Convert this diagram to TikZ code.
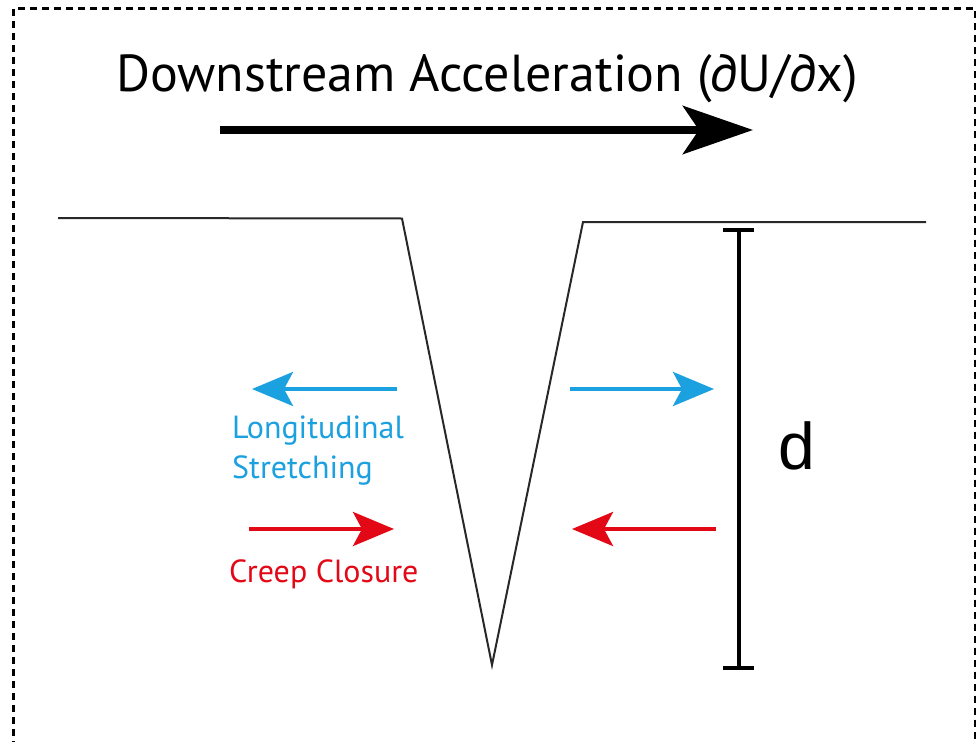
\documentclass[tikz,border=0pt]{standalone}
\usepackage{fontspec}
\setmainfont{PT Sans}
\newfontfamily\dfont{Liberation Sans}
\usetikzlibrary{arrows.meta}
\definecolor{cblue}{RGB}{27,160,224}
\definecolor{cred}{RGB}{226,8,22}
\definecolor{cline}{RGB}{40,40,40}
\tikzset{
  bigarrow/.style={line width=8pt, -{Stealth[length=70pt,width=48pt,inset=16pt]}},
  smallarrow/.style={line width=4pt, -{Stealth[length=41pt,width=34pt,inset=9pt]}},
  profile/.style={line width=2pt, draw=cline, line join=miter},
  scalebar/.style={line width=4pt},
  frame/.style={line width=2.2pt, dash pattern=on 7pt off 5pt},
  lbl/.style={inner sep=0pt, align=left, font=\fontsize{32}{40}\selectfont}
}
\begin{document}
\begin{tikzpicture}[x=1pt,y=-1pt]
\useasboundingbox (0,0) rectangle (976,741);
% frame
\coordinate (fbl) at (13.5,760);
\coordinate (ftl) at (13.5,8.5);
\coordinate (ftr) at (975,8.5);
\coordinate (fbr) at (975,760);
\draw[frame] (fbl) -- (ftl) -- (ftr) -- (fbr);
% title
\node[inner sep=0pt, anchor=base, font=\fontsize{52}{60}\selectfont] (title) at (487,92) {Downstream Acceleration (∂U/∂x)};
% big arrow
\coordinate (ba1) at (220,130);
\coordinate (ba2) at (753,130);
\draw[bigarrow] (ba1) -- (ba2);
% profile
\coordinate (p1) at (58,218);
\coordinate (p2) at (402,218.5);
\coordinate (p3) at (492,665);
\coordinate (p4) at (583,222);
\coordinate (p5) at (926,222);
\draw[profile] (p1) -- (p2) -- (p3) -- (p4) -- (p5);
% scale bar
\coordinate (dt) at (739,230);
\coordinate (db) at (739,668);
\coordinate (dtl) at (723,230);
\coordinate (dtr) at (754,230);
\coordinate (dbl) at (723,668);
\coordinate (dbr) at (754,668);
\draw[scalebar] (dt) -- (db);
\draw[scalebar] (dtl) -- (dtr);
\draw[scalebar] (dbl) -- (dbr);
\node[inner sep=0pt, anchor=base, font=\dfont\fontsize{66}{70}\selectfont] (d) at (797,469) {d};
% blue arrows
\coordinate (bl1) at (397,389);
\coordinate (bl2) at (252,389);
\coordinate (br1) at (570,389);
\coordinate (br2) at (714,389);
\draw[smallarrow, cblue] (bl1) -- (bl2);
\draw[smallarrow, cblue] (br1) -- (br2);
% red arrows
\coordinate (rl1) at (249,529);
\coordinate (rl2) at (394,529);
\coordinate (rr1) at (716,529);
\coordinate (rr2) at (572,529);
\draw[smallarrow, cred] (rl1) -- (rl2);
\draw[smallarrow, cred] (rr1) -- (rr2);
% labels
\node[lbl, text=cblue, anchor=base west] (ls) at (232,478) {Longitudinal\\Stretching};
\node[lbl, text=cred, anchor=base west] (cc) at (229,582) {Creep Closure};
\end{tikzpicture}
\end{document}
